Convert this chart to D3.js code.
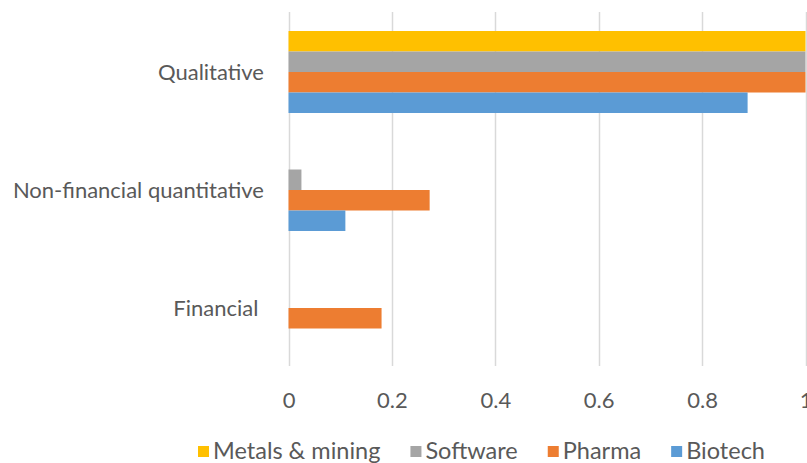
<!DOCTYPE html>
<html>
<head>
  <meta charset="utf-8">
  <style>
    body { margin: 0; background: #fff; }
    svg { display: block; }
    text { font-family: Lato, "Open Sans", sans-serif; fill: #595959; white-space: pre; }
  </style>
</head>
<body>
  <div id="chart"></div>
  <script src="https://d3js.org/d3.v7.min.js"></script>
  <script>
    // DATA
    var categories = ['Qualitative', 'Non-financial quantitative', 'Financial '];
    var series = ['Metals & mining', 'Software', 'Pharma', 'Biotech'];
    var colors = ['#FFC000', '#A5A5A5', '#ED7D31', '#5B9BD5'];

    var metalsValues  = [1, 0, 0];
    var softwareValues = [1, 0.025, 0];
    var pharmaValues  = [1, 0.273, 0.18];
    var biotechValues = [0.888, 0.11, 0];

    var xTicks = [0, 0.2, 0.4, 0.6, 0.8, 1];

    var valuesBySeries = [metalsValues, softwareValues, pharmaValues, biotechValues];

    // LAYOUT
    var width = 807;
    var height = 463;
    var fontSize = 22;
    var legendFontSize = 23.5;

    var svg = d3.select('#chart')
      .append('svg')
        .attr('width', width)
        .attr('height', height);

    var x = d3.scaleLinear()
      .domain([0, 1])
      .range([288.5, 805.5]);

    var y0 = d3.scaleBand()
      .domain(categories)
      .range([13, 367]);

    var y1 = d3.scaleBand()
      .domain(series)
      .range([18, y0.bandwidth() - 18]);

    var color = d3.scaleOrdinal().domain(series).range(colors);

    // grid
    svg.append('g')
      .selectAll('line')
      .data(xTicks)
      .enter()
        .append('line')
          .attr('x1', d => Math.round(x(d)) + 0.5)
          .attr('x2', d => Math.round(x(d)) + 0.5)
          .attr('y1', 12)
          .attr('y2', 366)
          .style('stroke', '#d9d9d9')
          .style('stroke-width', 1.5);

    // bars
    var rows = [];
    categories.forEach(function(cat, ci) {
      series.forEach(function(s, si) {
        rows.push({ cat: cat, series: s, value: valuesBySeries[si][ci] });
      });
    });

    svg.append('g')
      .selectAll('rect')
      .data(rows.filter(r => r.value > 0))
      .enter()
        .append('rect')
          .attr('x', x(0))
          .attr('y', d => y0(d.cat) + y1(d.series))
          .attr('width', d => x(d.value) - x(0))
          .attr('height', y1.bandwidth())
          .style('fill', d => color(d.series));

    // category labels
    svg.append('g')
      .selectAll('text')
      .data(categories)
      .enter()
        .append('text')
          .attr('x', 264)
          .attr('y', d => y0(d) + y0.bandwidth() / 2)
          .attr('dy', '0.35em')
          .attr('text-anchor', 'end')
          .style('font-size', fontSize + 'px')
          .text(d => d);

    // x tick labels
    var xAxis = d3.axisBottom(x)
      .tickValues(xTicks)
      .tickSize(0)
      .tickPadding(0)
      .tickFormat(d3.format('~g'));

    var axisG = svg.append('g')
      .attr('transform', 'translate(0, 393)')
      .call(xAxis);

    axisG.select('.domain').remove();
    axisG.selectAll('text')
      .attr('dy', '0.35em')
      .attr('y', 7)
      .style('font-size', fontSize + 'px')
      .style('font-family', null)
      .attr('fill', null);

    // legend
    var legend = svg.append('g')
      .attr('transform', 'translate(0, 451)');

    var cursor = 198;
    series.forEach(function(s) {
      legend.append('rect')
        .attr('x', cursor)
        .attr('y', -5)
        .attr('width', 11)
        .attr('height', 11)
        .style('fill', color(s));

      var t = legend.append('text')
        .attr('x', cursor + 15)
        .attr('dy', '0.35em')
        .style('font-size', legendFontSize + 'px')
        .text(s);

      cursor += 15 + t.node().getComputedTextLength() + 30;
    });
  </script>
</body>
</html>
